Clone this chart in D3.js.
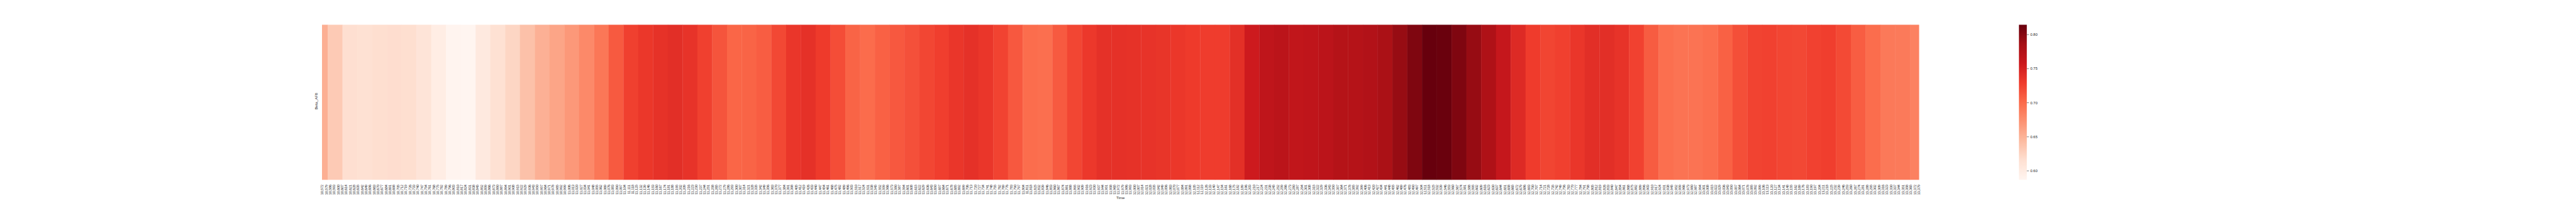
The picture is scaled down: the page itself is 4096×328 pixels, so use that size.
<!DOCTYPE html>
<html>
<head>
<meta charset="utf-8">
<script src="https://cdn.jsdelivr.net/npm/d3@7"></script>
<style>
  html, body { margin: 0; padding: 0; background: #fff; }
  svg { display: block; }
  text { font-family: "Liberation Sans", Arial, sans-serif; fill: #262626; }
</style>
</head>
<body>
<svg id="chart" width="4096" height="328" viewBox="0 0 7200 576"></svg>
<script>
// ---- data ----
const seriesName = "Beta_AF8";
const xLabel = "Time";
const timeFirst = 10572;   // first sample on the time axis
const timeLast = 13379;    // last sample on the time axis
const tickStep = 7;        // tick label every 7th sample

// start time of each constant-value window
const windowStarts = [
  10572, 10582, 10608, 10634, 10660, 10686, 10712, 10738, 10764, 10790,
  10816, 10842, 10868, 10894, 10920, 10946, 10972, 10998, 11024, 11050,
  11076, 11102, 11128, 11154, 11180, 11206, 11232, 11258, 11284, 11310,
  11336, 11362, 11388, 11414, 11440, 11466, 11492, 11518, 11544, 11570,
  11596, 11622, 11648, 11674, 11700, 11726, 11752, 11778, 11804, 11830,
  11856, 11882, 11908, 11934, 11960, 11986, 12012, 12038, 12064, 12090,
  12116, 12142, 12168, 12194, 12220, 12246, 12272, 12298, 12324, 12350,
  12376, 12402, 12428, 12454, 12480, 12506, 12532, 12558, 12584, 12610,
  12636, 12662, 12688, 12714, 12740, 12766, 12792, 12818, 12844, 12870,
  12896, 12922, 12948, 12974, 13000, 13026, 13052, 13078, 13104, 13130,
  13156, 13182, 13208, 13234, 13260, 13286, 13312, 13338, 13364
];

// Beta_AF8 value of each window
const betaAF8 = [
  0.652, 0.632, 0.6157, 0.614, 0.616, 0.617, 0.616, 0.6094, 0.598, 0.588,
  0.5866, 0.603, 0.614, 0.623, 0.639, 0.651, 0.659, 0.668, 0.678, 0.691,
  0.710, 0.726, 0.732, 0.736, 0.739, 0.735, 0.726, 0.714, 0.703, 0.704,
  0.708, 0.721, 0.733, 0.737, 0.730, 0.718, 0.704, 0.699, 0.706, 0.711,
  0.716, 0.722, 0.727, 0.733, 0.737, 0.733, 0.724, 0.711, 0.698, 0.697,
  0.710, 0.722, 0.731, 0.737, 0.737, 0.736, 0.735, 0.734, 0.732, 0.730,
  0.728, 0.728, 0.738, 0.756, 0.766, 0.769, 0.765, 0.766, 0.769, 0.774,
  0.774, 0.776, 0.781, 0.792, 0.803, 0.8142, 0.813, 0.803, 0.792, 0.778,
  0.762, 0.743, 0.729, 0.723, 0.726, 0.733, 0.739, 0.739, 0.735, 0.725,
  0.709, 0.697, 0.694, 0.694, 0.697, 0.706, 0.717, 0.724, 0.725, 0.722,
  0.721, 0.725, 0.727, 0.720, 0.708, 0.698, 0.690, 0.689, 0.684
];

const colorbarTicks = [0.60, 0.65, 0.70, 0.75, 0.80];

// matplotlib "Reds" anchor colours
const redsStops = ["#fff5f0", "#fee0d2", "#fcbba1", "#fc9272", "#fb6a4a",
                   "#ef3b2c", "#cb181d", "#a50f15", "#67000d"];

// ---- layout (reference pixel units, scaled by the viewBox) ----
const plot = { left: 900, right: 5364, top: 69, bottom: 503 };
const cbar = { left: 5643, width: 22 };

const svg = d3.select("#chart");

const x = d3.scaleLinear()
  .domain([timeFirst, timeLast + 1])
  .range([plot.left, plot.right]);

const [vmin, vmax] = d3.extent(betaAF8);
const color = d3.scaleLinear()
  .domain(redsStops.map((_, i) => vmin + (vmax - vmin) * i / (redsStops.length - 1)))
  .range(redsStops)
  .interpolate(d3.interpolateRgb)
  .clamp(true);

const cells = windowStarts.map((s, i) => ({
  start: s,
  end: i + 1 < windowStarts.length ? windowStarts[i + 1] : timeLast + 1,
  value: betaAF8[i]
}));

svg.append("g").selectAll("rect")
  .data(cells)
  .join("rect")
  .attr("x", d => x(d.start))
  .attr("y", plot.top)
  .attr("width", d => x(d.end) - x(d.start) + (d.end > timeLast ? 0 : 0.6))
  .attr("height", plot.bottom - plot.top)
  .attr("fill", d => color(d.value));

// x axis
const tickTimes = d3.range(timeFirst, timeLast + 1, tickStep);
const xAxis = d3.axisBottom(x)
  .tickValues(tickTimes)
  .tickSize(0)
  .tickPadding(0);
const gx = svg.append("g")
  .attr("transform", `translate(0,${plot.bottom})`)
  .call(xAxis);
gx.select(".domain").remove();
gx.selectAll(".tick").attr("transform", d => `translate(${x(d + 0.5)},0)`);
gx.selectAll(".tick text")
  .attr("x", 0).attr("y", 0).attr("dy", "0.35em")
  .attr("transform", "translate(0,13.5) rotate(-90)")
  .attr("text-anchor", "end")
  .style("font-size", "9.3px")
  .style("font-family", '"Liberation Sans", Arial, sans-serif')
  .attr("fill", "#262626");

// axis labels
svg.append("text")
  .attr("x", (plot.left + plot.right) / 2)
  .attr("y", 556.5)
  .attr("text-anchor", "middle")
  .style("font-size", "10.8px")
  .text(xLabel);

svg.append("text")
  .attr("transform", `translate(888,${(plot.top + plot.bottom) / 2 - 3}) rotate(-90)`)
  .attr("text-anchor", "middle")
  .style("font-size", "10.5px")
  .text(seriesName);

// colorbar
const defs = svg.append("defs");
const grad = defs.append("linearGradient")
  .attr("id", "redsGrad")
  .attr("x1", 0).attr("y1", 1).attr("x2", 0).attr("y2", 0);
grad.selectAll("stop")
  .data(redsStops)
  .join("stop")
  .attr("offset", (d, i) => i / (redsStops.length - 1))
  .attr("stop-color", d => d);

const cy = d3.scaleLinear().domain([vmin, vmax]).range([plot.bottom, plot.top]);

svg.append("rect")
  .attr("x", cbar.left)
  .attr("y", plot.top)
  .attr("width", cbar.width)
  .attr("height", plot.bottom - plot.top)
  .attr("fill", "url(#redsGrad)");

const cAxis = d3.axisRight(cy)
  .tickValues(colorbarTicks)
  .tickFormat(d3.format(".2f"))
  .tickSize(6)
  .tickPadding(3.5);
const gc = svg.append("g")
  .attr("transform", `translate(${cbar.left + cbar.width},0)`)
  .call(cAxis);
gc.select(".domain").remove();
gc.selectAll(".tick line").attr("stroke", "#262626").attr("stroke-width", 1);
gc.selectAll(".tick text")
  .style("font-size", "10.5px")
  .style("font-family", '"Liberation Sans", Arial, sans-serif')
  .attr("fill", "#262626");
</script>
</body>
</html>
